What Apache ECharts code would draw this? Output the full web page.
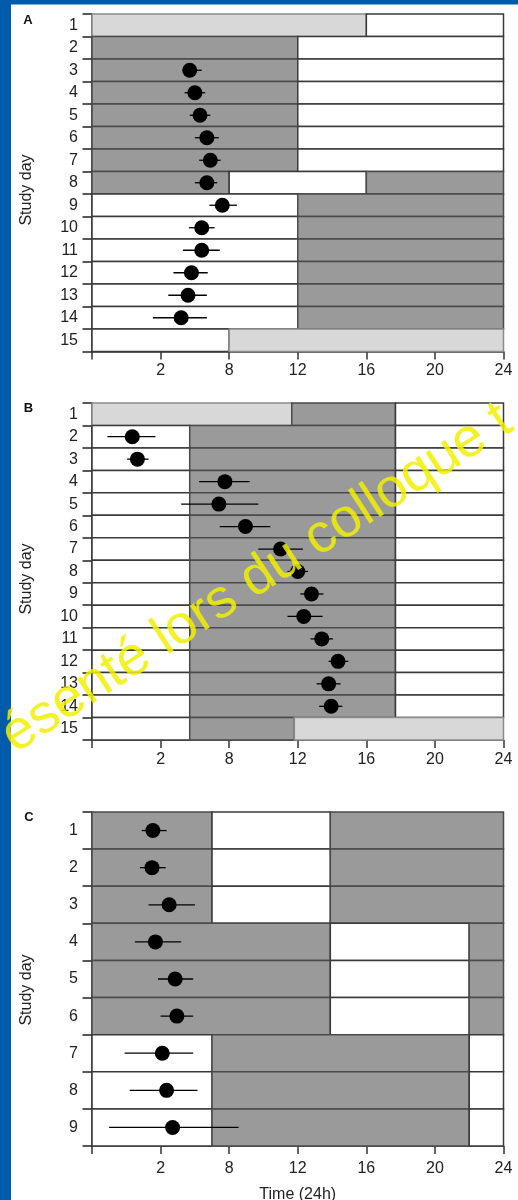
<!DOCTYPE html>
<html>
<head>
<meta charset="utf-8">
<script src="https://cdn.jsdelivr.net/npm/echarts/dist/echarts.min.js"></script>
<style>
html,body{margin:0;padding:0;background:#fff;}
#chart{width:518px;height:1200px;}
</style>
</head>
<body>
<div id="chart"></div>
<script>
// ---------- DATA ----------
const daysA = ['1','2','3','4','5','6','7','8','9','10','11','12','13','14','15'];
const daysB = ['1','2','3','4','5','6','7','8','9','10','11','12','13','14','15'];
const daysC = ['1','2','3','4','5','6','7','8','9'];

const tickValues = [4, 8, 12, 16, 20, 24];
const tickLabels = ['2', '8', '12', '16', '20', '24'];

// segments: [day, start hour, end hour, kind]  kind: L = light, D = dark, W = white
const segA = [
  ['1',0,16,'L'],['1',16,24,'W'],
  ['2',0,12,'D'],['2',12,24,'W'],
  ['3',0,12,'D'],['3',12,24,'W'],
  ['4',0,12,'D'],['4',12,24,'W'],
  ['5',0,12,'D'],['5',12,24,'W'],
  ['6',0,12,'D'],['6',12,24,'W'],
  ['7',0,12,'D'],['7',12,24,'W'],
  ['8',0,8,'D'],['8',8,16,'W'],['8',16,24,'D'],
  ['9',0,12,'W'],['9',12,24,'D'],
  ['10',0,12,'W'],['10',12,24,'D'],
  ['11',0,12,'W'],['11',12,24,'D'],
  ['12',0,12,'W'],['12',12,24,'D'],
  ['13',0,12,'W'],['13',12,24,'D'],
  ['14',0,12,'W'],['14',12,24,'D'],
  ['15',0,8,'W'],['15',8,24,'L']
];
const segB = [
  ['1',0,11.65,'L'],['1',11.65,17.7,'D'],['1',17.7,24,'W'],
  ['2',0,5.7,'W'],['2',5.7,17.7,'D'],['2',17.7,24,'W'],
  ['3',0,5.7,'W'],['3',5.7,17.7,'D'],['3',17.7,24,'W'],
  ['4',0,5.7,'W'],['4',5.7,17.7,'D'],['4',17.7,24,'W'],
  ['5',0,5.7,'W'],['5',5.7,17.7,'D'],['5',17.7,24,'W'],
  ['6',0,5.7,'W'],['6',5.7,17.7,'D'],['6',17.7,24,'W'],
  ['7',0,5.7,'W'],['7',5.7,17.7,'D'],['7',17.7,24,'W'],
  ['8',0,5.7,'W'],['8',5.7,17.7,'D'],['8',17.7,24,'W'],
  ['9',0,5.7,'W'],['9',5.7,17.7,'D'],['9',17.7,24,'W'],
  ['10',0,5.7,'W'],['10',5.7,17.7,'D'],['10',17.7,24,'W'],
  ['11',0,5.7,'W'],['11',5.7,17.7,'D'],['11',17.7,24,'W'],
  ['12',0,5.7,'W'],['12',5.7,17.7,'D'],['12',17.7,24,'W'],
  ['13',0,5.7,'W'],['13',5.7,17.7,'D'],['13',17.7,24,'W'],
  ['14',0,5.7,'W'],['14',5.7,17.7,'D'],['14',17.7,24,'W'],
  ['15',0,5.7,'W'],['15',5.7,11.8,'D'],['15',11.8,24,'L']
];
const segC = [
  ['1',0,7,'D'],['1',7,13.9,'W'],['1',13.9,24,'D'],
  ['2',0,7,'D'],['2',7,13.9,'W'],['2',13.9,24,'D'],
  ['3',0,7,'D'],['3',7,13.9,'W'],['3',13.9,24,'D'],
  ['4',0,13.9,'D'],['4',13.9,22,'W'],['4',22,24,'D'],
  ['5',0,13.9,'D'],['5',13.9,22,'W'],['5',22,24,'D'],
  ['6',0,13.9,'D'],['6',13.9,22,'W'],['6',22,24,'D'],
  ['7',0,7,'W'],['7',7,22,'D'],['7',22,24,'W'],
  ['8',0,7,'W'],['8',7,22,'D'],['8',22,24,'W'],
  ['9',0,7,'W'],['9',7,22,'D'],['9',22,24,'W']
];

// points: mean with low / high bounds
const ptDaysA = ['3','4','5','6','7','8','9','10','11','12','13','14'];
const meanA = [5.7, 6.0, 6.3, 6.7, 6.9, 6.7, 7.6, 6.4, 6.4, 5.8, 5.6, 5.2];
const lowA  = [5.3, 5.4, 5.7, 6.0, 6.25, 6.0, 6.85, 5.65, 5.3, 4.75, 4.45, 3.55];
const highA = [6.4, 6.6, 6.9, 7.4, 7.5, 7.3, 8.45, 7.15, 7.45, 6.75, 6.7, 6.7];

const ptDaysB = ['2','3','4','5','6','7','8','9','10','11','12','13','14'];
const meanB = [2.35, 2.65, 7.75, 7.4, 8.95, 11.0, 12.0, 12.8, 12.35, 13.4, 14.35, 13.8, 13.95];
const lowB  = [0.9, 2.05, 6.25, 5.2, 7.45, 9.7, 11.4, 12.15, 11.4, 12.75, 13.8, 13.1, 13.25];
const highB = [3.7, 3.3, 9.2, 9.7, 10.4, 12.3, 12.6, 13.5, 13.45, 14.05, 14.95, 14.5, 14.6];

const ptDaysC = ['1','2','3','4','5','6','7','8','9'];
const meanC = [3.55, 3.5, 4.5, 3.7, 4.85, 4.95, 4.1, 4.35, 4.7];
const lowC  = [2.9, 2.8, 3.3, 2.5, 3.85, 4.0, 1.9, 2.2, 1.0];
const highC = [4.35, 4.3, 6.0, 5.2, 5.9, 5.9, 5.9, 6.15, 8.55];

const panelLetters = ['A', 'B', 'C'];
const yName = 'Study day';
const xName = 'Time (24h)';
const watermark = 'ésenté lors du colloque t';

// ---------- STYLE ----------
const FONT = '"Liberation Sans", Arial, sans-serif';
const fillOf = { L: '#d8d8d8', D: '#9a9a9a', W: '#ffffff' };
const strokeOf = { L: '#8a8a8a', D: '#4a4a4a', W: '#3a3a3a' };

const grids = [
  { left: 92, right: 14.5, top: 14, height: 337.5, containLabel: false, outerBoundsMode: 'none' },
  { left: 92, right: 14.5, top: 403, height: 337, containLabel: false, outerBoundsMode: 'none' },
  { left: 92, right: 14.5, top: 812, height: 334, containLabel: false, outerBoundsMode: 'none' }
];

function bandSeries(idx, seg, days) {
  return {
    type: 'custom', xAxisIndex: idx, yAxisIndex: idx, z: 1, silent: true,
    data: seg.map(s => [s[1], s[2], days.indexOf(s[0]), s[3]]),
    encode: { x: [0, 1], y: 2 },
    renderItem: function (params, api) {
      const k = seg[params.dataIndex][3];
      const a = api.coord([api.value(0), api.value(2)]);
      const b = api.coord([api.value(1), api.value(2)]);
      const h = api.size([0, 1])[1];
      return {
        type: 'rect',
        shape: { x: a[0], y: a[1] - h / 2, width: b[0] - a[0], height: h },
        style: { fill: fillOf[k], stroke: strokeOf[k], lineWidth: 1.5 }
      };
    }
  };
}
function errSeries(idx, pd, lo, hi, days) {
  return {
    type: 'custom', xAxisIndex: idx, yAxisIndex: idx, z: 3, silent: true,
    data: pd.map((d, i) => [lo[i], hi[i], days.indexOf(d)]),
    encode: { x: [0, 1], y: 2 },
    renderItem: function (params, api) {
      const a = api.coord([api.value(0), api.value(2)]);
      const b = api.coord([api.value(1), api.value(2)]);
      return {
        type: 'line',
        shape: { x1: a[0], y1: a[1], x2: b[0], y2: b[1] },
        style: { stroke: '#000', lineWidth: 1.3 }
      };
    }
  };
}
function dotSeries(idx, pd, mean, days) {
  return {
    type: 'scatter', xAxisIndex: idx, yAxisIndex: idx, z: 4, silent: true,
    symbol: 'circle', symbolSize: 15,
    itemStyle: { color: '#000', opacity: 1 },
    data: pd.map((d, i) => [mean[i], days.indexOf(d)])
  };
}
function xAxisDef(idx, margin, withName) {
  const o = {
    gridIndex: idx, type: 'value', min: 0, max: 24, interval: 4,
    axisLine: { show: true, lineStyle: { color: '#333', width: 1.5 } },
    axisTick: { show: true, length: 8, lineStyle: { color: '#333', width: 1.5 } },
    splitLine: { show: false },
    axisLabel: {
      margin: margin, color: '#222', fontSize: 16, fontFamily: FONT,
      formatter: v => { const i = tickValues.indexOf(v); return i < 0 ? '' : tickLabels[i]; }
    }
  };
  if (withName) {
    o.name = xName; o.nameLocation = 'middle'; o.nameGap = 41;
    o.nameTextStyle = { color: '#222', fontSize: 16, fontFamily: FONT };
  }
  return o;
}
function yAxisDef(idx, days) {
  return {
    gridIndex: idx, type: 'category', data: days, inverse: true, offset: 5.5,
    axisLine: { show: true, lineStyle: { color: '#222', width: 1.5 } },
    axisTick: { show: true, length: 9.5, lineStyle: { color: '#222', width: 1.5 } },
    splitLine: { show: false },
    axisLabel: { margin: 8.5, color: '#222', fontSize: 16, fontFamily: FONT }
  };
}

const chart = echarts.init(document.getElementById('chart'), null, { renderer: 'canvas', width: 518, height: 1200 });

const rad = Math.PI / 180;
chart.setOption({
  backgroundColor: '#ffffff',
  animation: false,
  grid: grids,
  xAxis: [xAxisDef(0, 11, false), xAxisDef(1, 12, false), xAxisDef(2, 15, true)],
  yAxis: [yAxisDef(0, daysA), yAxisDef(1, daysB), yAxisDef(2, daysC)],
  series: [
    bandSeries(0, segA, daysA), errSeries(0, ptDaysA, lowA, highA, daysA), dotSeries(0, ptDaysA, meanA, daysA),
    bandSeries(1, segB, daysB), errSeries(1, ptDaysB, lowB, highB, daysB), dotSeries(1, ptDaysB, meanB, daysB),
    bandSeries(2, segC, daysC), errSeries(2, ptDaysC, lowC, highC, daysC), dotSeries(2, ptDaysC, meanC, daysC)
  ],
  graphic: [
    { type: 'rect', left: 0, top: 0, z: 200, shape: { width: 11, height: 1200 }, style: { fill: '#005baa' } },
    { type: 'rect', left: 0, top: 0, z: 200, shape: { width: 518, height: 4.5 }, style: { fill: '#005baa' } },
    { type: 'text', x: 28, y: 20.5, z: 10, style: { text: panelLetters[0], font: 'bold 13px ' + FONT, fill: '#111', align: 'center', verticalAlign: 'middle' } },
    { type: 'text', x: 28.5, y: 408, z: 10, style: { text: panelLetters[1], font: 'bold 13px ' + FONT, fill: '#111', align: 'center', verticalAlign: 'middle' } },
    { type: 'text', x: 29, y: 817.5, z: 10, style: { text: panelLetters[2], font: 'bold 13px ' + FONT, fill: '#111', align: 'center', verticalAlign: 'middle' } },
    { type: 'text', x: 27, y: 190, rotation: Math.PI / 2, z: 10, style: { text: yName, font: '16px ' + FONT, fill: '#222', align: 'center', verticalAlign: 'middle' } },
    { type: 'text', x: 27, y: 579, rotation: Math.PI / 2, z: 10, style: { text: yName, font: '16px ' + FONT, fill: '#222', align: 'center', verticalAlign: 'middle' } },
    { type: 'text', x: 27, y: 990, rotation: Math.PI / 2, z: 10, style: { text: yName, font: '16px ' + FONT, fill: '#222', align: 'center', verticalAlign: 'middle' } },
    { type: 'text', x: 22, y: 764, rotation: 33 * rad, z: 250, style: { text: watermark, font: '55px ' + FONT, fill: 'rgba(240,240,0,0.85)', align: 'left', verticalAlign: 'bottom' } }
  ]
});
</script>
</body>
</html>
